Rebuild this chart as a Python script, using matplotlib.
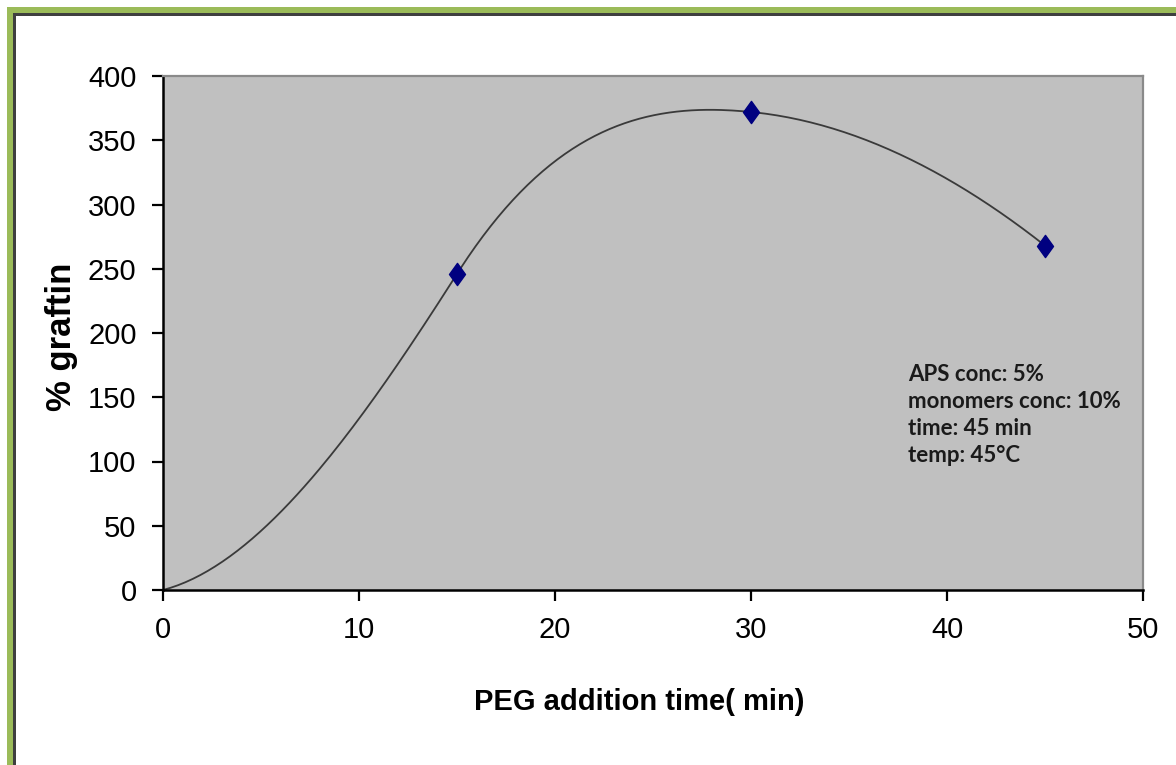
import numpy as np
import matplotlib
matplotlib.use("Agg")
import matplotlib.pyplot as plt
from matplotlib.patches import Rectangle
from matplotlib.path import Path

# grafting vs. PEG addition time
peg_time = [0, 15, 30, 45]
grafting = [0, 246, 372, 268]
# slope of the smoothed curve at each point (% per min)
curve_slope = [4, 24, -1.5, -12]

x_ticks = [0, 10, 20, 30, 40, 50]
y_ticks = [0, 50, 100, 150, 200, 250, 300, 350, 400]
notes = ["APS conc: 5%", "monomers conc: 10%", "time: 45 min", "temp: 45°C"]


def hermite_curve(xs, ys, ms, n=80):
    cx, cy = [], []
    for i in range(len(xs) - 1):
        h = xs[i + 1] - xs[i]
        t = np.linspace(0, 1, n)
        h00 = 2 * t**3 - 3 * t**2 + 1
        h10 = t**3 - 2 * t**2 + t
        h01 = -2 * t**3 + 3 * t**2
        h11 = t**3 - t**2
        cx.extend(xs[i] + h * t)
        cy.extend(h00 * ys[i] + h10 * h * ms[i] + h01 * ys[i + 1] + h11 * h * ms[i + 1])
    return np.array(cx), np.array(cy)


W, H = 1176, 765
fig = plt.figure(figsize=(W / 100, H / 100), dpi=100)
fig.patch.set_facecolor("white")

# frame around the figure (green band with a dark inner line)
green = "#9bbb59"
dark = "#3f3f3f"
fig.add_artist(Rectangle((7 / W, 0), 6 / W, (H - 7) / H, transform=fig.transFigure,
                         color=green, lw=0))
fig.add_artist(Rectangle((7 / W, (H - 13) / H), (W - 7) / W, 6 / H, transform=fig.transFigure,
                         color=green, lw=0))
fig.add_artist(Rectangle((13 / W, 0), 3 / W, (H - 13) / H, transform=fig.transFigure,
                         color=dark, lw=0))
fig.add_artist(Rectangle((13 / W, (H - 16) / H), (W - 13) / W, 3 / H, transform=fig.transFigure,
                         color=dark, lw=0))

ax = fig.add_axes([163 / W, 1 - 590 / H, 980 / W, 514 / H])
ax.set_facecolor("#c0c0c0")

cx, cy = hermite_curve(peg_time, grafting, curve_slope)
ax.plot(cx, cy, color="#3a3a3a", lw=1.3, zorder=2)

diamond = Path([(0, 1), (0.72, 0), (0, -1), (-0.72, 0), (0, 1)],
               [Path.MOVETO, Path.LINETO, Path.LINETO, Path.LINETO, Path.CLOSEPOLY])
ax.plot(peg_time[1:], grafting[1:], linestyle="none", marker=diamond,
        markersize=16, color="#000080", zorder=3, clip_on=False)

ax.set_xlim(0, 50)
ax.set_ylim(0, 400)
ax.set_xticks(x_ticks)
ax.set_yticks(y_ticks)

sans = ["Liberation Sans", "DejaVu Sans"]
ax.tick_params(direction="out", length=8, width=1.6, color="black")
ax.tick_params(axis="x", pad=11)
ax.tick_params(axis="y", pad=11)
for lab in ax.get_xticklabels() + ax.get_yticklabels():
    lab.set_fontfamily(sans)
    lab.set_fontsize(21)

for side in ["left", "bottom"]:
    ax.spines[side].set_color("black")
    ax.spines[side].set_linewidth(1.8)
for side in ["top", "right"]:
    ax.spines[side].set_color("#8a8a8a")
    ax.spines[side].set_linewidth(1.6)

ax.set_xlabel("PEG addition time( min)", family=sans, weight="bold", fontsize=21,
              va="baseline")
ax.xaxis.set_label_coords((639 - 163) / 980, -(710 - 590) / 514)
ax.set_ylabel("% graftin", family=sans, weight="bold",
              fontsize=25, va="center", ha="center")
ax.yaxis.set_label_coords((62 - 163) / 980, (590 - 337) / 514)

for i, line in enumerate(notes):
    ax.text((908 - 163) / 980, (590 - 381 - 27 * i) / 514, line, transform=ax.transAxes,
            family=["Lato", "Open Sans", "DejaVu Sans"], weight="bold", fontsize=16,
            color="#1a1a1a", va="baseline", ha="left")

fig.savefig("out.png", dpi=100)
